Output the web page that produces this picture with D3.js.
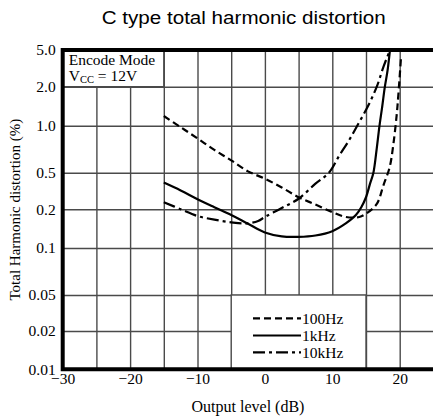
<!DOCTYPE html>
<html><head><meta charset="utf-8">
<script src="https://cdn.jsdelivr.net/npm/d3@7"></script>
<style>html,body{margin:0;padding:0;background:#fff;} svg{display:block;}</style>
</head><body><svg id="c" width="433" height="419"></svg>
<script>
// ---------- data ----------
const chartTitle = "C type total harmonic distortion";
const xLabel = "Output level (dB)";
const yLabel = "Total Harmonic distortion (%)";
const noteLine1 = "Encode Mode";
const xTicks = [-30, -20, -10, 0, 10, 20];
const xTickLabels = ["\u221230", "\u221220", "\u221210", "0", "10", "20"];
const xGrid = [-25, -20, -15, -10, -5, 0, 5, 10, 15, 20];
const yTicks = [5, 2, 1, 0.5, 0.2, 0.1, 0.05, 0.02, 0.01];
const yTickLabels = ["5.0", "2.0", "1.0", "0.5", "0.2", "0.1", "0.05", "0.02", "0.01"];
const yGrid = [2, 1, 0.5, 0.2, 0.1, 0.05, 0.02];
const seriesNames = ["100Hz", "1kHz", "10kHz"];

const x100Hz = [-15, -12.5, -10, -7.5, -5, -2.5, 0, 2.5, 5, 7.5, 10, 12, 14, 15.1, 16.6, 17.6, 18.5, 19.05, 19.55, 19.8, 20.2];
const y100Hz = [1.19, 0.98, 0.83, 0.70, 0.60, 0.51, 0.43, 0.345, 0.27, 0.225, 0.19, 0.174, 0.174, 0.186, 0.228, 0.367, 0.54, 0.755, 1.21, 1.73, 4.2];

const x1kHz = [-15, -12.5, -10, -7.5, -5, -2.5, 0, 2.5, 5, 7.5, 10, 12, 13.5, 14.3, 15, 15.6, 16.1, 16.6, 17.0, 17.4, 17.8, 18.2, 18.56];
const y1kHz = [0.39, 0.32, 0.257, 0.21, 0.18, 0.154, 0.132, 0.123, 0.122, 0.125, 0.135, 0.155, 0.18, 0.21, 0.27, 0.38, 0.5, 0.72, 1.0, 1.4, 2.0, 3.0, 5.0];

const x10kHz = [-15, -12.5, -10, -7.5, -5, -2.7, -1, 0, 2.5, 5, 7.5, 9.5, 11, 12.5, 13.7, 15.3, 16.6, 17.6, 18.56];
const y10kHz = [0.238, 0.20, 0.177, 0.166, 0.158, 0.155, 0.162, 0.174, 0.206, 0.26, 0.38, 0.5, 0.64, 0.81, 1.0, 1.42, 2.0, 3.3, 5.0];

// ---------- layout ----------
const W = 433, H = 419;
const xRangePx = [62.7, 433.4];
const yRangePx = [50, 86.7, 125.8, 172.7, 209.2, 248, 295, 331, 369.3];
const serif = "'Liberation Serif','Times New Roman',serif";
const sans = "'Liberation Sans',Arial,sans-serif";
const gridColor = "#4a4a4a";

const x = d3.scaleLinear().domain([-30, 25]).range(xRangePx);
const y = d3.scaleLog().domain(yTicks).range(yRangePx);

const svg = d3.select("#c");
const pTop = y(5), pBottom = y(0.01), pLeft = x(-30);

// grid
const gGridX = svg.append("g").attr("transform", `translate(0,${pBottom})`)
  .call(d3.axisBottom(x).tickValues(xGrid).tickSize(-(pBottom - pTop)).tickFormat(""));
gGridX.select(".domain").remove();
gGridX.selectAll("line").attr("stroke", gridColor).attr("stroke-width", 1.4);

const gGridY = svg.append("g").attr("transform", `translate(${pLeft},0)`)
  .call(d3.axisRight(y).tickValues(yGrid).tickSize(W - pLeft).tickFormat(""));
gGridY.select(".domain").remove();
gGridY.selectAll("line").attr("stroke", gridColor).attr("stroke-width", 1.4);

// note box (Encode Mode)
svg.append("rect")
  .attr("x", x(-30)).attr("y", y(5))
  .attr("width", x(-15) - x(-30)).attr("height", y(2) - y(5))
  .attr("fill", "#fff").attr("stroke", gridColor).attr("stroke-width", 1.4);
svg.append("text").attr("x", pLeft + 6).attr("y", 65)
  .attr("font-family", serif).attr("font-size", 15.5).text(noteLine1);
const vcc = svg.append("text").attr("x", pLeft + 6).attr("y", 81)
  .attr("font-family", serif).attr("font-size", 15.5);
vcc.append("tspan").text("V");
vcc.append("tspan").attr("font-size", 10.5).attr("dy", 2).text("CC");
vcc.append("tspan").attr("dy", -2).text(" = 12V");

// legend box
svg.append("rect")
  .attr("x", x(-5)).attr("y", y(0.05))
  .attr("width", x(15) - x(-5)).attr("height", y(0.01) - y(0.05))
  .attr("fill", "#fff").attr("stroke", gridColor).attr("stroke-width", 1.4);

// curves
const series = [
  { name: seriesNames[0], xs: x100Hz, ys: y100Hz, dash: "7,4" },
  { name: seriesNames[1], xs: x1kHz, ys: y1kHz, dash: null },
  { name: seriesNames[2], xs: x10kHz, ys: y10kHz, dash: "12,4,3,4" }
];
svg.append("clipPath").attr("id", "clip").append("rect")
  .attr("x", pLeft).attr("y", pTop).attr("width", W - pLeft).attr("height", pBottom - pTop);
const line = d3.line().x(d => x(d[0])).y(d => y(d[1])).curve(d3.curveCatmullRom.alpha(0.5));
svg.append("g").attr("clip-path", "url(#clip)").selectAll("path").data(series).join("path")
  .attr("d", s => line(s.xs.map((v, i) => [v, s.ys[i]])))
  .attr("fill", "none").attr("stroke", "#000").attr("stroke-width", 2.2)
  .attr("stroke-dasharray", s => s.dash);

// legend entries
const legY = [318.3, 335.5, 352.3];
const lg = svg.append("g").selectAll("g").data(series).join("g")
  .attr("transform", (s, i) => `translate(0,${legY[i]})`);
lg.append("line").attr("x1", 253).attr("x2", 301).attr("y1", 0).attr("y2", 0)
  .attr("stroke", "#000").attr("stroke-width", 2.2).attr("stroke-dasharray", s => s.dash);
lg.append("text").attr("x", 302).attr("y", 5.2)
  .attr("font-family", serif).attr("font-size", 15.5).text(s => s.name);

// frame (left, top, bottom)
svg.append("path")
  .attr("d", `M${W + 5},${pTop} H${pLeft} V${pBottom} H${W + 5}`)
  .attr("fill", "none").attr("stroke", "#000").attr("stroke-width", 4);

// tick labels
const gX = svg.append("g").attr("transform", `translate(0,${pBottom})`)
  .call(d3.axisBottom(x).tickValues(xTicks).tickSize(0).tickPadding(4)
    .tickFormat((d, i) => xTickLabels[i]));
gX.select(".domain").remove();
gX.selectAll("text").attr("font-family", serif).attr("font-size", 15.5).attr("fill", "#000");

const gY = svg.append("g").attr("transform", `translate(${pLeft - 7},0)`)
  .call(d3.axisLeft(y).tickValues(yTicks).tickSize(0).tickPadding(0)
    .tickFormat((d, i) => yTickLabels[i]));
gY.select(".domain").remove();
gY.selectAll("text").attr("font-family", serif).attr("font-size", 15.5).attr("fill", "#000");

// titles
svg.append("text").attr("x", 101.7).attr("y", 24)
  .attr("font-family", sans).attr("font-size", 17.5)
  .attr("textLength", 284).attr("lengthAdjust", "spacingAndGlyphs")
  .text(chartTitle);
svg.append("text").attr("x", 248).attr("y", 412).attr("text-anchor", "middle")
  .attr("font-family", serif).attr("font-size", 16).text(xLabel);
svg.append("text").attr("transform", `translate(19.5,${(pTop + pBottom) / 2}) rotate(-90)`)
  .attr("text-anchor", "middle").attr("font-family", serif).attr("font-size", 15).text(yLabel);
</script></body></html>
